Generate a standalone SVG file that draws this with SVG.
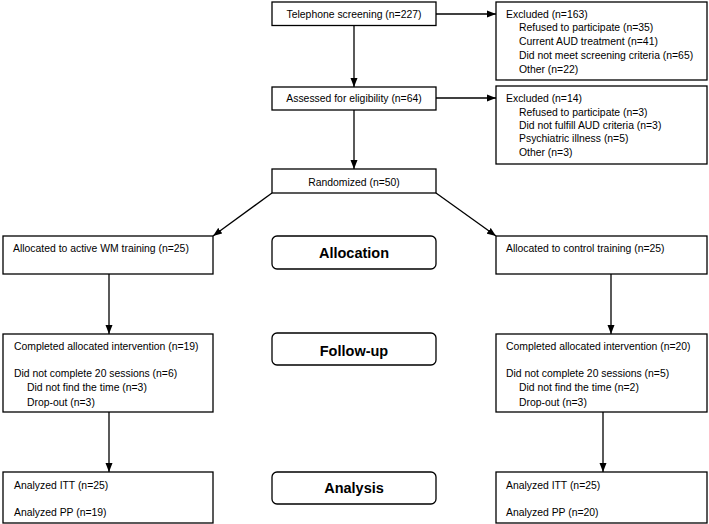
<svg xmlns="http://www.w3.org/2000/svg" width="709" height="524" viewBox="0 0 709 524">
<style>
.box{fill:#fff;stroke:#000;stroke-width:1.3}
.stage{fill:#fff;stroke:#000;stroke-width:1.3}
.t{font-family:"Liberation Sans",Arial,sans-serif;font-size:10.4px;fill:#000}
.c{text-anchor:middle}
.b{font-family:"Liberation Sans",Arial,sans-serif;font-size:14.5px;font-weight:bold;fill:#000;text-anchor:middle}
.ln{stroke:#000;stroke-width:1.3;fill:none;marker-end:url(#ah)}
</style>
<defs>
<marker id="ah" markerUnits="userSpaceOnUse" markerWidth="9" markerHeight="8" viewBox="0 0 9 8" refX="9" refY="4" orient="auto">
<path d="M0,0.5 L9,4 L0,7.5 Z" fill="#000"/>
</marker>
</defs>
<rect width="709" height="524" fill="#fff"/>
<g id="connectors">
<line class="ln" x1="354" y1="25.5" x2="354" y2="87"/>
<line class="ln" x1="354" y1="110" x2="354" y2="169"/>
<line class="ln" x1="436" y1="14" x2="496" y2="14"/>
<line class="ln" x1="436" y1="98" x2="496" y2="98"/>
<line class="ln" x1="272" y1="193" x2="213" y2="236"/>
<line class="ln" x1="436" y1="193" x2="496" y2="236"/>
<line class="ln" x1="109" y1="274" x2="109" y2="334"/>
<line class="ln" x1="611" y1="274" x2="611" y2="334"/>
<line class="ln" x1="109" y1="412" x2="109" y2="472"/>
<line class="ln" x1="603" y1="412" x2="603" y2="472"/>
</g>
<g id="telephone">
<rect class="box" x="272" y="2" width="164" height="23.5"/>
<text class="t c" x="354" y="17.7">Telephone screening (n=227)</text>
</g>
<g id="excluded1">
<rect class="box" x="496" y="2" width="211" height="78"/>
<text class="t" x="506" y="17.7">Excluded (n=163)</text>
<text class="t" x="519" y="31.2">Refused to participate (n=35)</text>
<text class="t" x="519" y="45.2">Current AUD treatment (n=41)</text>
<text class="t" x="519" y="58.8">Did not meet screening criteria (n=65)</text>
<text class="t" x="519" y="72.6">Other (n=22)</text>
</g>
<g id="assessed">
<rect class="box" x="272" y="87" width="164" height="23"/>
<text class="t c" x="354" y="102">Assessed for eligibility (n=64)</text>
</g>
<g id="excluded2">
<rect class="box" x="496" y="86" width="211" height="78"/>
<text class="t" x="506" y="102.4">Excluded (n=14)</text>
<text class="t" x="519" y="115.7">Refused to participate (n=3)</text>
<text class="t" x="519" y="129">Did not fulfill AUD criteria (n=3)</text>
<text class="t" x="519" y="142">Psychiatric illness (n=5)</text>
<text class="t" x="519" y="155.7">Other (n=3)</text>
</g>
<g id="randomized">
<rect class="box" x="272" y="169" width="164" height="24"/>
<text class="t c" x="354" y="186.4">Randomized (n=50)</text>
</g>
<g id="alloc-left">
<rect class="box" x="3" y="236" width="210" height="38"/>
<text class="t" x="13" y="251.7">Allocated to active WM training (n=25)</text>
</g>
<g id="allocation">
<rect class="stage" x="272" y="236" width="164" height="33" rx="5"/>
<text class="b" x="354" y="257.8">Allocation</text>
</g>
<g id="alloc-right">
<rect class="box" x="496" y="236" width="211" height="38"/>
<text class="t" x="506" y="251.7">Allocated to control training (n=25)</text>
</g>
<g id="completed-left">
<rect class="box" x="3" y="334" width="210" height="78"/>
<text class="t" x="14" y="350.2">Completed allocated intervention (n=19)</text>
<text class="t" x="14" y="376.7">Did not complete 20 sessions (n=6)</text>
<text class="t" x="27" y="391.2">Did not find the time (n=3)</text>
<text class="t" x="27" y="405.7">Drop-out (n=3)</text>
</g>
<g id="followup">
<rect class="stage" x="272" y="333" width="164" height="32" rx="5"/>
<text class="b" x="354" y="356">Follow-up</text>
</g>
<g id="completed-right">
<rect class="box" x="496" y="334" width="211" height="78"/>
<text class="t" x="506" y="350.2">Completed allocated intervention (n=20)</text>
<text class="t" x="506" y="376.7">Did not complete 20 sessions (n=5)</text>
<text class="t" x="519" y="391.2">Did not find the time (n=2)</text>
<text class="t" x="519" y="405.7">Drop-out (n=3)</text>
</g>
<g id="analyzed-left">
<rect class="box" x="3" y="472" width="210" height="51"/>
<text class="t" x="14" y="488.7">Analyzed ITT (n=25)</text>
<text class="t" x="14" y="515.7">Analyzed PP (n=19)</text>
</g>
<g id="analysis">
<rect class="stage" x="272" y="472" width="164" height="32" rx="5"/>
<text class="b" x="354" y="493.2">Analysis</text>
</g>
<g id="analyzed-right">
<rect class="box" x="496" y="472" width="211" height="51"/>
<text class="t" x="506" y="488.7">Analyzed ITT (n=25)</text>
<text class="t" x="506" y="515.7">Analyzed PP (n=20)</text>
</g>
</svg>
